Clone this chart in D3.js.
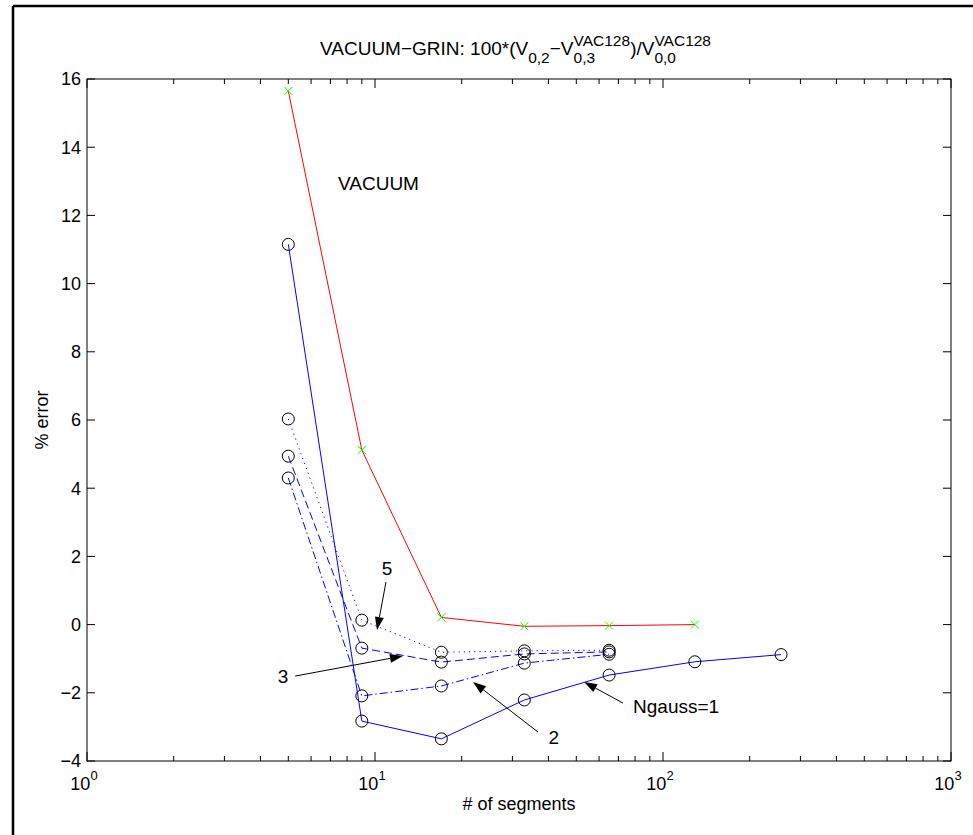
<!DOCTYPE html>
<html>
<head>
<meta charset="utf-8">
<script src="https://cdn.jsdelivr.net/npm/d3@7"></script>
<style>
  body { margin: 0; background: #fff; }
  text { font-family: "Liberation Sans", Arial, Helvetica, sans-serif; fill: #000; }
</style>
</head>
<body>
<svg id="chart" width="973" height="835"></svg>
<script>
// number of segments on the x axis
const segments = [5, 9, 17, 33, 65, 129, 257]

// % error per series
const vacuum  = [15.65, 5.12, 0.21, -0.05, -0.03, 0.0]
const ngauss1 = [11.15, -2.83, -3.35, -2.21, -1.48, -1.09, -0.88]
const ngauss2 = [4.30, -2.09, -1.80, -1.13, -0.87]
const ngauss3 = [4.94, -0.69, -1.10, -0.86, -0.80]
const ngauss5 = [6.03, 0.13, -0.81, -0.77, -0.75]

const yTicks   = [-4, -2, 0, 2, 4, 6, 8, 10, 12, 14, 16]
const xDecades = [0, 1, 2, 3]

// text labels and arrows, in data coordinates
const labels = [
  { text: 'VACUUM',   x: 7.44, y: 12.74, anchor: 'start' },
  { text: '5',        x: 11.0, y: 1.45,  anchor: 'middle' },
  { text: '3',        x: 4.79, y: -1.71, anchor: 'middle' },
  { text: '2',        x: 41.8, y: -3.5,  anchor: 'middle' },
  { text: 'Ngauss=1', x: 78.7, y: -2.59, anchor: 'start' }
]
const arrows = [
  { from: [10.92, 1.25],  to: [10.16, -0.16] },
  { from: [5.28, -1.51],  to: [12.51, -0.92] },
  { from: [36.8, -3.15],  to: [21.9, -1.68] },
  { from: [72.6, -2.3],   to: [53.2, -1.68] }
]

const W = 973, H = 835
const plot = { left: 87, right: 951, top: 79, bottom: 761 }
const fontSize = 18

const svg = d3.select('#chart')

// figure frame (top and left edges only visible)
svg.append('line').attr('x1', 13).attr('x2', W).attr('y1', 6).attr('y2', 6)
  .attr('stroke', '#000').attr('stroke-width', 2.5)
svg.append('line').attr('x1', 13).attr('x2', 13).attr('y1', 6).attr('y2', H)
  .attr('stroke', '#000').attr('stroke-width', 2.5)

const x = d3.scaleLog().domain([1, 1000]).range([plot.left, plot.right])
const y = d3.scaleLinear().domain([-4, 16]).range([plot.bottom, plot.top])

const minor = x.ticks().filter(v => Math.abs(Math.log10(v) % 1) > 1e-9)
const major = xDecades.map(d => Math.pow(10, d))

// inward ticks on all four sides
const axes = svg.append('g').attr('stroke', '#000').attr('stroke-width', 1)
const tick = (x1, y1, x2, y2) => axes.append('line')
  .attr('x1', x1).attr('y1', y1).attr('x2', x2).attr('y2', y2)

minor.forEach(v => {
  tick(x(v), plot.bottom, x(v), plot.bottom - 5)
  tick(x(v), plot.top, x(v), plot.top + 5)
})
major.forEach(v => {
  tick(x(v), plot.bottom, x(v), plot.bottom - 9)
  tick(x(v), plot.top, x(v), plot.top + 9)
})
yTicks.forEach(v => {
  tick(plot.left, y(v), plot.left + 8, y(v))
  tick(plot.right, y(v), plot.right - 8, y(v))
})
axes.append('rect')
  .attr('x', plot.left).attr('y', plot.top)
  .attr('width', plot.right - plot.left).attr('height', plot.bottom - plot.top)
  .attr('fill', 'none')

// y tick labels
svg.append('g').selectAll('text')
  .data(yTicks)
  .enter()
  .append('text')
    .attr('x', plot.left - 6)
    .attr('y', d => y(d))
    .attr('dy', '0.36em')
    .attr('text-anchor', 'end')
    .style('font-size', `${fontSize}px`)
    .text(d => d < 0 ? `\u2212${-d}` : d)

// x tick labels: 10^n
const xl = svg.append('g').selectAll('g')
  .data(xDecades)
  .enter()
  .append('text')
    .attr('x', d => x(Math.pow(10, d)) - 3)
    .attr('y', plot.bottom + 29)
    .attr('text-anchor', 'middle')
    .style('font-size', `${fontSize}px`)
xl.append('tspan').text('10')
xl.append('tspan').attr('dy', -10).style('font-size', '13px').text(d => d)

// axis labels
svg.append('text')
  .attr('x', (plot.left + plot.right) / 2)
  .attr('y', 810)
  .attr('text-anchor', 'middle')
  .style('font-size', `${fontSize}px`)
  .text('# of segments')

svg.append('text')
  .attr('transform', `translate(48, ${(plot.top + plot.bottom) / 2}) rotate(-90)`)
  .attr('text-anchor', 'middle')
  .style('font-size', `${fontSize}px`)
  .text('% error')

// title with sub/superscripts
const title = svg.append('text')
  .attr('x', 320).attr('y', 55)
  .style('font-size', '19px')
const small = '15.5px'
const parts = [
  ['VACUUM\u2212GRIN: 100*(V', 0, null],
  ['0,2', 8, small],
  ['\u2212V', -8, null],
  ['0,3', 8, small],
  ['VAC128', -17, small, true],
  [')/V', 9, null],
  ['0,0', 8, small],
  ['VAC128', -17, small, true]
]
parts.forEach(([t, dy, fs]) => {
  const ts = title.append('tspan').attr('dy', dy).text(t)
  if (fs) ts.style('font-size', fs)
})
// put superscripts directly over the preceding subscripts
title.selectAll('tspan').each(function (d, i, nodes) {
  if (parts[i][3]) {
    const prevLen = nodes[i - 1].getComputedTextLength()
    d3.select(this).attr('dx', -prevLen)
  }
})

// series lines
const line = d3.line()
  .x(d => x(d[0]))
  .y(d => y(d[1]))

const series = [
  { values: vacuum,  color: '#ff0000', dash: null },
  { values: ngauss1, color: '#0000ff', dash: null },
  { values: ngauss2, color: '#0000ff', dash: '8,3,1.5,3' },
  { values: ngauss3, color: '#0000ff', dash: '8,4' },
  { values: ngauss5, color: '#0000ff', dash: '1.2,4' }
]

series.forEach(s => {
  const pts = s.values.map((v, i) => [segments[i], v])
  svg.append('path')
    .datum(pts)
    .attr('d', line)
    .attr('fill', 'none')
    .attr('stroke', s.color)
    .attr('stroke-width', 1)
    .attr('stroke-dasharray', s.dash)
})

// circle markers on the Ngauss series
series.slice(1).forEach(s => {
  svg.append('g').selectAll('circle')
    .data(s.values.map((v, i) => [segments[i], v]))
    .enter()
    .append('circle')
      .attr('cx', d => x(d[0]))
      .attr('cy', d => y(d[1]))
      .attr('r', 6)
      .attr('fill', 'none')
      .attr('stroke', '#000')
      .attr('stroke-width', 1)
})

// green x markers on the vacuum series
svg.append('g').selectAll('path')
  .data(vacuum.map((v, i) => [segments[i], v]))
  .enter()
  .append('path')
    .attr('d', d => {
      const cx = x(d[0]), cy = y(d[1]), r = 4
      return `M${cx - r},${cy - r}L${cx + r},${cy + r}M${cx - r},${cy + r}L${cx + r},${cy - r}`
    })
    .attr('stroke', '#00ff00')
    .attr('stroke-width', 1)

// annotations
svg.append('g').selectAll('text')
  .data(labels)
  .enter()
  .append('text')
    .attr('x', d => x(d.x))
    .attr('y', d => y(d.y))
    .attr('text-anchor', d => d.anchor)
    .style('font-size', '19px')
    .text(d => d.text)

arrows.forEach(a => {
  const x1 = x(a.from[0]), y1 = y(a.from[1])
  const x2 = x(a.to[0]), y2 = y(a.to[1])
  const ang = Math.atan2(y2 - y1, x2 - x1)
  const len = 13, half = 4.5
  const bx = x2 - len * Math.cos(ang), by = y2 - len * Math.sin(ang)
  svg.append('line')
    .attr('x1', x1).attr('y1', y1).attr('x2', bx).attr('y2', by)
    .attr('stroke', '#000').attr('stroke-width', 1)
  svg.append('path')
    .attr('d', `M${x2},${y2}L${bx - half * Math.sin(ang)},${by + half * Math.cos(ang)}L${bx + half * Math.sin(ang)},${by - half * Math.cos(ang)}Z`)
    .attr('fill', '#000')
})
</script>
</body>
</html>
